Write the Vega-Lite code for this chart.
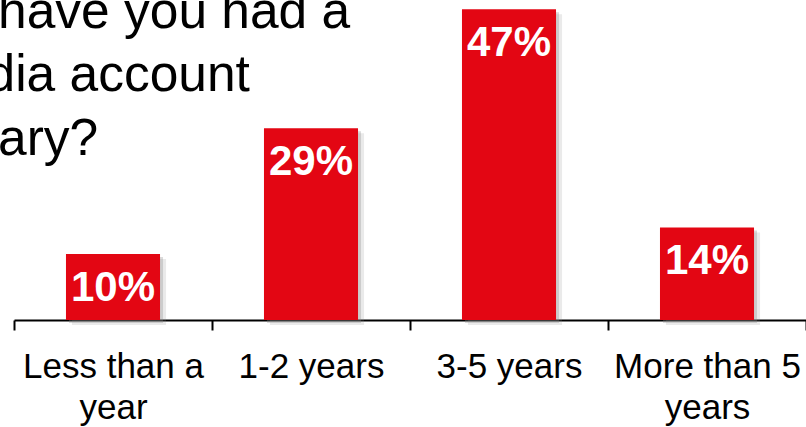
{
  "$schema": "https://vega.github.io/schema/vega-lite/v6.json",
  "width": 792,
  "height": 320,
  "autosize": {"type": "none"},
  "padding": {"left": 14, "top": 0, "right": 0, "bottom": 107},
  "background": "white",
  "config": {"view": {"stroke": null}},
  "title": {
    "text": ["How long have you had a", "social media account", "for the library?"],
    "anchor": "start",
    "frame": "group",
    "font": "Liberation Sans",
    "fontSize": 51.5,
    "fontWeight": "normal",
    "color": "black",
    "lineHeight": 63.5,
    "baseline": "alphabetic",
    "dx": -245,
    "offset": -206
  },
  "data": {
    "values": [
      {"category": "Less than a year", "value": 10, "label": "10%"},
      {"category": "1-2 years", "value": 29, "label": "29%"},
      {"category": "3-5 years", "value": 47, "label": "47%"},
      {"category": "More than 5 years", "value": 14, "label": "14%"}
    ]
  },
  "encoding": {
    "x": {
      "field": "category",
      "type": "nominal",
      "sort": null,
      "scale": {"paddingInner": 0, "paddingOuter": 0},
      "axis": {
        "title": null,
        "labelAngle": 0,
        "labelFont": "Liberation Sans",
        "labelFontSize": 35,
        "labelColor": "black",
        "labelLineHeight": 41,
        "labelPadding": 19,
        "labelLimit": 0,
        "labelExpr": "datum.value == 'Less than a year' ? ['Less than a', 'year'] : datum.value == 'More than 5 years' ? ['More than 5', 'years'] : datum.value",
        "domainColor": "black",
        "domainWidth": 2,
        "tickColor": "black",
        "tickWidth": 2,
        "tickSize": 10,
        "tickBand": "extent",
        "grid": false
      }
    },
    "y": {
      "field": "value",
      "type": "quantitative",
      "scale": {"domain": [0, 48.4]},
      "axis": null
    }
  },
  "layer": [
    {
      "mark": {"type": "bar", "width": {"band": 0.475}, "color": "#888888", "opacity": 0.18, "xOffset": 6, "yOffset": 5},
      "encoding": {}
    },
    {
      "mark": {"type": "bar", "width": {"band": 0.475}, "color": "#888888", "opacity": 0.3, "xOffset": 3, "yOffset": 3},
      "encoding": {}
    },
    {
      "mark": {"type": "bar", "width": {"band": 0.475}, "color": "#E30613"},
      "encoding": {}
    },
    {
      "mark": {"type": "text", "font": "Liberation Sans", "fontWeight": "bold", "fontSize": 42, "color": "white", "align": "center", "baseline": "alphabetic", "dy": 47},
      "encoding": {"text": {"field": "label"}}
    }
  ]
}
